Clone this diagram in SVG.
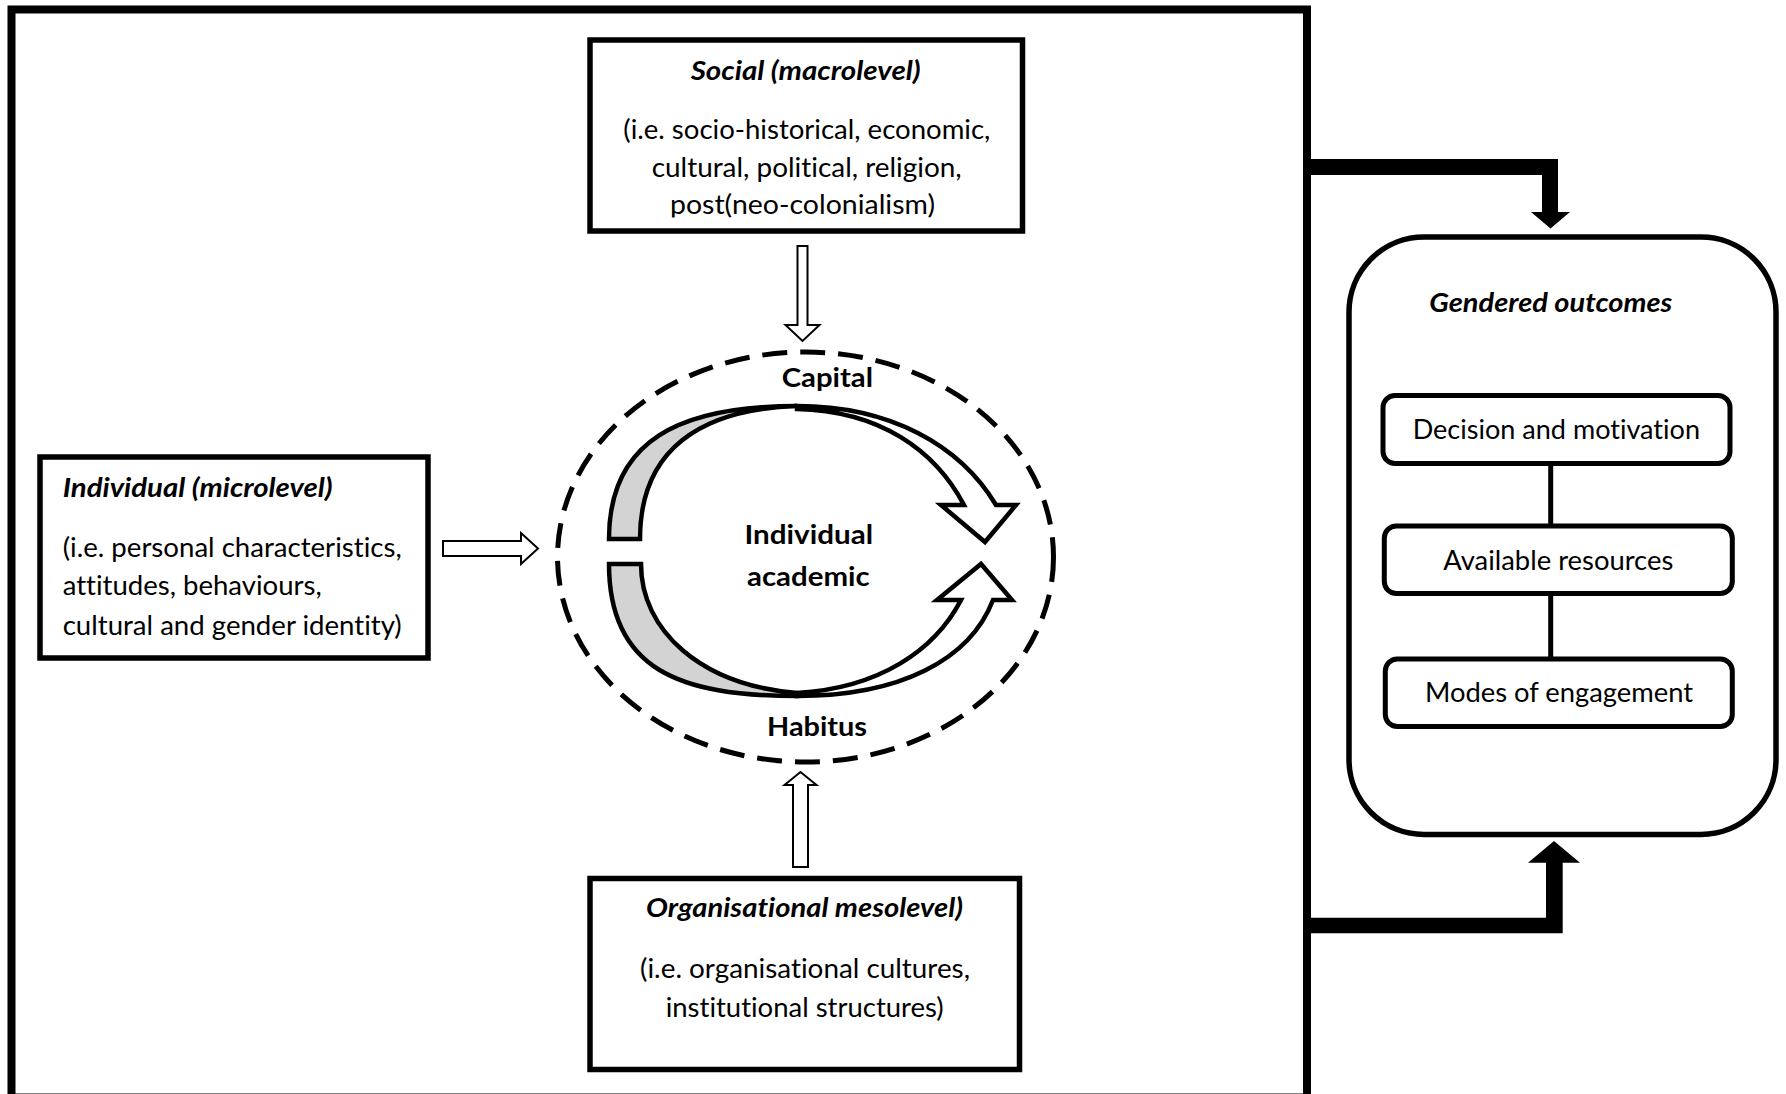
<svg xmlns="http://www.w3.org/2000/svg" width="1786" height="1094" viewBox="0 0 1786 1094">
<style>
  .box { fill: #ffffff; stroke: #000000; stroke-width: 5.5; }
  .sub { fill: #ffffff; stroke: #000000; stroke-width: 5; }
  .t { font-family: Lato, "Liberation Sans", sans-serif; font-size: 26px; fill: #000000; font-variant-ligatures: none; font-feature-settings: "liga" 0, "clig" 0; }
  .b { font-weight: bold; }
  .bi { font-weight: bold; font-style: italic; }
  .hollow { fill: #ffffff; stroke: #000000; stroke-width: 2; stroke-linejoin: miter; }
  .curve { stroke: #000000; stroke-width: 4.5; stroke-linejoin: miter; }
  .link { stroke: #000000; stroke-width: 5; fill: none; }
</style>
<defs>
  <clipPath id="socialClip"><rect x="590" y="40" width="432" height="177.5"/></clipPath>
</defs>
<rect x="0" y="0" width="1786" height="1094" fill="#ffffff"/>

<g id="frame">
  <rect x="11.5" y="9.5" width="1295.5" height="1088" fill="none" stroke="#000000" stroke-width="8"/>
</g>

<g id="social">
  <rect class="box" x="590" y="40" width="432.5" height="191"/>
  <text class="t bi" x="690.7" y="80" textLength="230" lengthAdjust="spacingAndGlyphs">Social (macrolevel)</text>
  <text class="t" x="623.3" y="139.3" textLength="367" lengthAdjust="spacingAndGlyphs">(i.e. socio-historical, economic,</text>
  <text class="t" x="651.7" y="176.7" textLength="310" lengthAdjust="spacingAndGlyphs">cultural, political, religion,</text>
  <g clip-path="url(#socialClip)">
    <text class="t" x="670" y="213.5" textLength="265" lengthAdjust="spacingAndGlyphs">post(neo-colonialism)</text>
  </g>
</g>

<g id="individual">
  <rect class="box" x="40" y="457" width="388" height="201"/>
  <text class="t bi" x="62.7" y="497.3" textLength="270" lengthAdjust="spacingAndGlyphs">Individual (microlevel)</text>
  <text class="t" x="62.7" y="556.7" textLength="339" lengthAdjust="spacingAndGlyphs">(i.e. personal characteristics,</text>
  <text class="t" x="62.7" y="595" textLength="259" lengthAdjust="spacingAndGlyphs">attitudes, behaviours,</text>
  <text class="t" x="62.7" y="635" textLength="339" lengthAdjust="spacingAndGlyphs">cultural and gender identity)</text>
</g>

<g id="organisational">
  <rect class="box" x="590" y="878.5" width="429.5" height="191"/>
  <text class="t bi" x="646" y="916.7" textLength="317" lengthAdjust="spacingAndGlyphs">Organisational mesolevel)</text>
  <text class="t" x="640" y="978.3" textLength="330" lengthAdjust="spacingAndGlyphs">(i.e. organisational cultures,</text>
  <text class="t" x="665.7" y="1016.7" textLength="278" lengthAdjust="spacingAndGlyphs">institutional structures)</text>
</g>

<g id="academic">
  <ellipse cx="805.5" cy="557" rx="248" ry="205" fill="none" stroke="#000000" stroke-width="5" stroke-dasharray="25 13"/>
  <path class="curve" fill="#d3d3d3" d="M 609 539 C 609 440, 680 406, 797 406 C 700 409, 640 450, 640 539 Z"/>
  <path class="curve" fill="#ffffff" d="M 797 406 C 890 406, 960 445, 996 505 L 1016 505 L 985 542 L 941 505 L 964 505 C 935 450, 880 411, 797 409 Z"/>
  <path class="curve" fill="#d3d3d3" d="M 609 564 L 641 564 C 641 630, 700 685, 797 693 L 797 696 C 680 696, 609 670, 609 564 Z"/>
  <path class="curve" fill="#ffffff" d="M 797 696 C 900 696, 970 660, 993 600 L 1012 600 L 981 564 L 937 600 L 961 600 C 935 650, 880 688, 797 693 Z"/>
  <text class="t b" x="781.7" y="387.3" textLength="91.3" lengthAdjust="spacingAndGlyphs">Capital</text>
  <text class="t b" x="744.5" y="543.5" textLength="128.5" lengthAdjust="spacingAndGlyphs">Individual</text>
  <text class="t b" x="747" y="585.5" textLength="122.7" lengthAdjust="spacingAndGlyphs">academic</text>
  <text class="t b" x="767" y="736" textLength="100" lengthAdjust="spacingAndGlyphs">Habitus</text>
</g>

<g id="gendered-outcomes">
  <rect class="box" x="1349" y="237" width="427" height="597.5" rx="75" ry="75"/>
  <text class="t bi" x="1429.3" y="312.3" textLength="243" lengthAdjust="spacingAndGlyphs">Gendered outcomes</text>
</g>

<g id="decision">
  <rect class="sub" x="1383" y="395.5" width="347" height="68" rx="12" ry="12"/>
  <text class="t" x="1412.7" y="439.3" textLength="287.3" lengthAdjust="spacingAndGlyphs">Decision and motivation</text>
</g>

<g id="resources">
  <rect class="sub" x="1384.3" y="526" width="348" height="67.5" rx="12" ry="12"/>
  <text class="t" x="1443.3" y="569.5" textLength="230" lengthAdjust="spacingAndGlyphs">Available resources</text>
</g>

<g id="engagement">
  <rect class="sub" x="1385.3" y="659" width="347" height="67.5" rx="12" ry="12"/>
  <text class="t" x="1425" y="701.7" textLength="268" lengthAdjust="spacingAndGlyphs">Modes of engagement</text>
</g>

<g id="connectors">
  <path class="hollow" d="M 797.5 246 H 807.5 V 325 H 819.5 L 802.5 341 L 785.5 325 H 797.5 Z"/>
  <path class="hollow" d="M 800.5 772 L 816.5 785 H 808 V 867 H 793 V 785 H 784.5 Z"/>
  <path class="hollow" d="M 443 541 H 521 V 533 L 538 548.5 L 521 564 V 556 H 443 Z"/>
  <path fill="#000000" d="M 1310 159 H 1558 V 212 H 1570 L 1550.5 228.5 L 1531 212 H 1542 V 175 H 1310 Z"/>
  <path fill="#000000" d="M 1310 933.3 H 1562.7 V 862.7 H 1580 L 1554 841 L 1528 862.7 H 1546 V 917.7 H 1310 Z"/>
  <line class="link" x1="1550.7" y1="463.5" x2="1550.7" y2="526"/>
  <line class="link" x1="1550.7" y1="593.5" x2="1550.7" y2="659"/>
</g>
</svg>
